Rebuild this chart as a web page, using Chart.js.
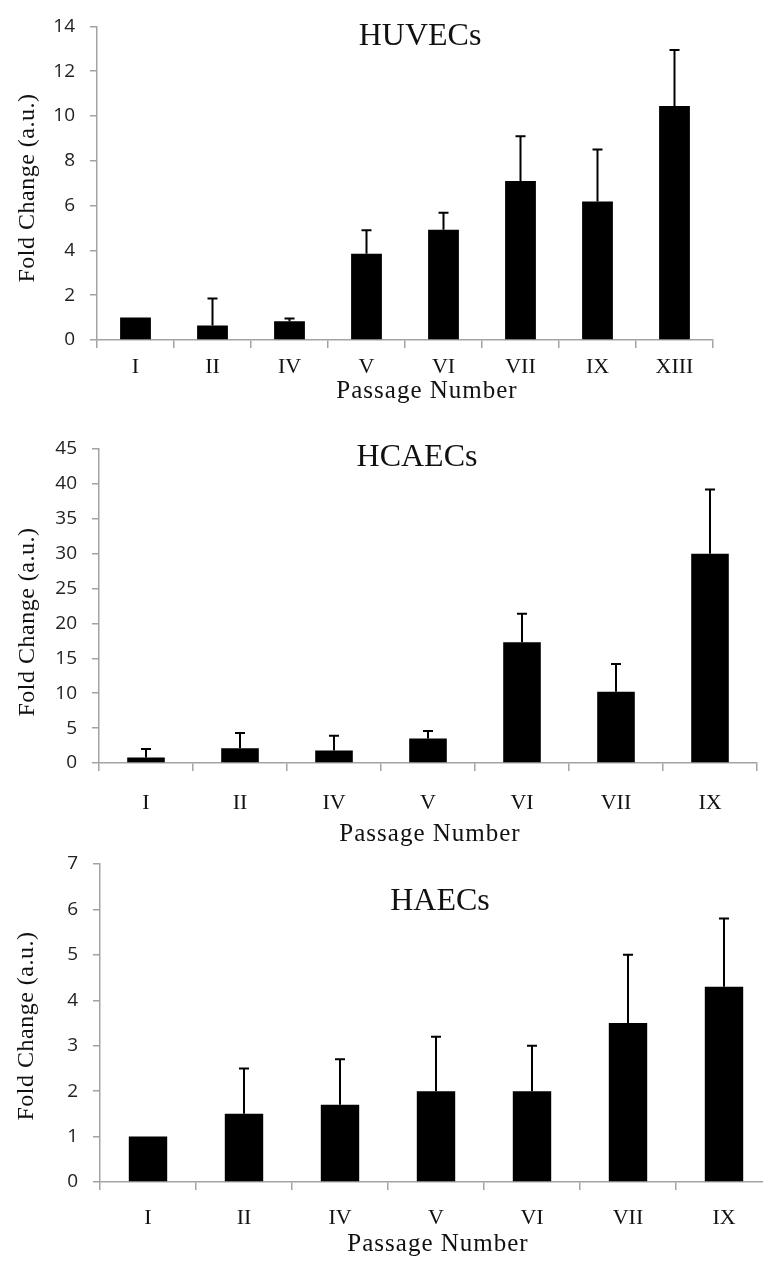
<!DOCTYPE html>
<html>
<head>
<meta charset="utf-8">
<script src="https://cdn.jsdelivr.net/npm/chart.js@4.4.1/dist/chart.umd.min.js"></script>
<style>
  html, body { margin: 0; padding: 0; background: #fff; overflow: hidden; }
  body { width: 763px; height: 1261px; position: relative; }
  canvas { position: absolute; left: 0; }
</style>
</head>
<body>
<canvas id="huvec" width="763" height="410" style="top:0px"></canvas>
<canvas id="hcaec" width="763" height="450" style="top:400px"></canvas>
<canvas id="haec" width="800" height="431" style="top:830px"></canvas>
<script>
// passage labels
const passagesA = ["I", "II", "IV", "V", "VI", "VII", "IX", "XIII"];
const passagesB = ["I", "II", "IV", "V", "VI", "VII", "IX"];

// fold change means and upper error (SD)
const huvecMean = [1.0, 0.65, 0.84, 3.85, 4.92, 7.1, 6.18, 10.45];
const huvecErr  = [0, 1.2, 0.12, 1.05, 0.76, 2.0, 2.32, 2.5];
const hcaecMean = [0.8, 2.1, 1.8, 3.5, 17.3, 10.2, 30.0];
const hcaecErr  = [1.2, 2.2, 2.1, 1.1, 4.1, 4.0, 9.2];
const haecMean  = [1.0, 1.5, 1.7, 2.0, 2.0, 3.5, 4.3];
const haecErr   = [0, 1.0, 1.0, 1.2, 1.0, 1.5, 1.5];

const SERIF = '"Liberation Serif", "Times New Roman", serif';
const SANS = '"Open Sans", "DejaVu Sans", sans-serif';
const AXIS_GREY = "#a3a3a3";

// upper-only error bars with small caps
const errorBars = {
  id: "errorBars",
  afterDatasetsDraw(chart) {
    const ds = chart.data.datasets[0];
    const meta = chart.getDatasetMeta(0);
    const y = chart.scales.y;
    const ctx = chart.ctx;
    ctx.save();
    ctx.strokeStyle = "#000";
    ctx.lineWidth = 2;
    meta.data.forEach((bar, i) => {
      const e = ds.errors[i];
      if (!e) return;
      const y0 = y.getPixelForValue(ds.data[i]);
      const y1 = y.getPixelForValue(ds.data[i] + e);
      ctx.beginPath();
      ctx.moveTo(bar.x, y0);
      ctx.lineTo(bar.x, y1);
      ctx.moveTo(bar.x - 5, y1);
      ctx.lineTo(bar.x + 5, y1);
      ctx.stroke();
    });
    ctx.restore();
  }
};

// panel title + axis titles, placed like the original figure
const panelText = {
  id: "panelText",
  afterDraw(chart, args, o) {
    const ctx = chart.ctx;
    ctx.save();
    ctx.fillStyle = "#111";
    ctx.textAlign = "center";
    ctx.textBaseline = "alphabetic";

    ctx.font = "32px " + SERIF;
    ctx.fillText(o.title, o.titleX, o.titleY);

    ctx.font = "25px " + SERIF;
    ctx.letterSpacing = "1px";
    ctx.fillText("Passage Number", o.xTitleX, o.xTitleY);

    ctx.font = "24px " + SERIF;
    ctx.letterSpacing = "0.5px";
    ctx.translate(o.yTitleX, o.yTitleY);
    ctx.rotate(-Math.PI / 2);
    ctx.textBaseline = "middle";
    ctx.fillText("Fold Change (a.u.)", 0, 0);
    ctx.restore();
  }
};

function makePanel(id, labels, means, errs, yMax, step, box, text) {
  const canvas = document.getElementById(id);
  const W = canvas.width, H = canvas.height;
  return new Chart(canvas, {
    type: "bar",
    data: {
      labels: labels,
      datasets: [{
        data: means,
        errors: errs,
        backgroundColor: "#000",
        borderWidth: 0,
        categoryPercentage: 1,
        barPercentage: 0.4
      }]
    },
    options: {
      responsive: false,
      animation: false,
      devicePixelRatio: 1,
      layout: { padding: { top: box.top, right: W - box.right, left: 0, bottom: 0 } },
      plugins: {
        legend: { display: false },
        tooltip: { enabled: false },
        panelText: text
      },
      scales: {
        x: {
          offset: true,
          grid: { offset: true, drawOnChartArea: false, drawTicks: true, tickLength: 8, color: AXIS_GREY, lineWidth: 1.5 },
          border: { display: true, color: AXIS_GREY, width: 1.5 },
          ticks: { color: "#111", font: { family: SERIF, size: 22 }, padding: box.xPad, maxRotation: 0, autoSkip: false },
          afterFit(s) { s.height = H - box.bottom; }
        },
        y: {
          min: 0, max: yMax,
          grid: { drawOnChartArea: false, drawTicks: true, tickLength: 7, color: AXIS_GREY, lineWidth: 1.5 },
          border: { display: true, color: AXIS_GREY, width: 1.5 },
          ticks: { stepSize: step, color: "#222", font: { family: SANS, size: 19 }, padding: 15 },
          afterFit(s) { s.width = box.left; }
        }
      }
    },
    plugins: [errorBars, panelText]
  });
}

makePanel("huvec", passagesA, huvecMean, huvecErr, 14, 2,
  { left: 97, right: 713, top: 20, bottom: 340, xPad: 6 },
  { title: "HUVECs", titleX: 420, titleY: 45, xTitleX: 427, xTitleY: 398, yTitleX: 28, yTitleY: 188 });

makePanel("hcaec", passagesB, hcaecMean, hcaecErr, 45, 5,
  { left: 99, right: 757, top: 49, bottom: 363, xPad: 19 },
  { title: "HCAECs", titleX: 417, titleY: 66, xTitleX: 430, xTitleY: 441, yTitleX: 28, yTitleY: 222 });

makePanel("haec", passagesB, haecMean, haecErr, 7, 1,
  { left: 100, right: 772, top: 34, bottom: 352, xPad: 15 },
  { title: "HAECs", titleX: 440, titleY: 80, xTitleX: 438, xTitleY: 421, yTitleX: 27, yTitleY: 196 });
</script>
</body>
</html>
